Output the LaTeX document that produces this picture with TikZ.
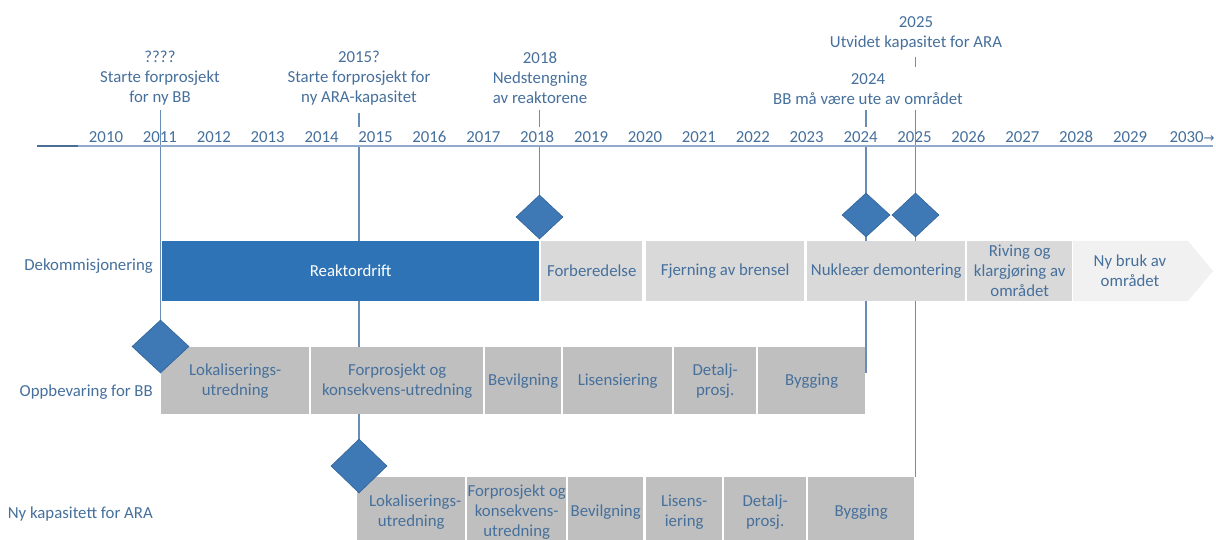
\documentclass[tikz,border=0pt]{standalone}
\usepackage{fontspec}
\setmainfont{Carlito}
\newfontfamily\dejavu{DejaVu Sans}
\usetikzlibrary{shapes.geometric}
\definecolor{txt}{HTML}{46709C}
\definecolor{barblue}{HTML}{2E73B5}
\definecolor{dia}{HTML}{3F79B5}
\definecolor{diaedge}{HTML}{2F6399}
\definecolor{lgray}{HTML}{D9D9D9}
\definecolor{vlgray}{HTML}{F1F1F1}
\definecolor{mgray}{HTML}{BFBFBF}
\definecolor{axisc}{HTML}{8FAACB}
\definecolor{axisdark}{HTML}{4A6E96}
\definecolor{linkc}{HTML}{6A8DB6}
\pgfdeclarelayer{back}
\pgfdeclarelayer{bg}
\pgfsetlayers{back,bg,main}
\begin{document}
\begin{tikzpicture}[x=1pt,y=-1pt,
  every node/.style={font=\fontsize{16.8}{20}\selectfont, text=txt, inner sep=0pt},
  lab/.style={align=center},
  gbox/.style={fill=lgray, anchor=north west, align=center, minimum height=60},
  dbox/.style={fill=mgray, anchor=north west, align=center, minimum height=67},
  ebox/.style={fill=mgray, anchor=north west, align=center, minimum height=70},
  ms/.style={diamond, aspect=1, fill=dia, draw=diaedge, line width=0.6pt},
  link/.style={draw=linkc, line width=1.4pt},
  axisline/.style={draw=axisc, line width=1.3pt}]
\clip (0,0) rectangle (1216,540);
\begin{pgfonlayer}{back}
\fill[white] (0,0) rectangle (1216,540);
\end{pgfonlayer}

% axis
\coordinate (axL) at (37,146);
\coordinate (axM) at (78,146);
\coordinate (axR) at (1213,146);
\draw[axisline] (axL) -- (axR);
\draw[draw=axisdark, line width=1.3pt] (axL) -- (axM);

% years
\foreach \i in {0,...,19}{
  \pgfmathtruncatemacro{\yr}{2010+\i}
  \node (y\yr) at ({106+53.9*\i},137) {\yr};
}
\node (y2030) at (1192,137) {2030{\dejavu\fontsize{13}{13}\selectfont→}};

% top labels
\node[lab] (L2011) at (160,78) {????\\Starte forprosjekt\\for ny BB};
\node[lab] (L2015) at (359,78) {2015?\\Starte forprosjekt for\\ny ARA-kapasitet};
\node[lab] (L2018) at (540,78) {2018\\Nedstengning\\av reaktorene};
\node[lab] (L2025) at (916,33.5) {2025\\Utvidet kapasitet for ARA};
\node[lab] (L2024) at (868,89.5) {2024\\BB må være ute av området};

% row labels
\node[anchor=base east] (R1) at (153,271) {Dekommisjonering};
\node[anchor=base east] (R2) at (153,396) {Oppbevaring for BB};
\node[anchor=base east] (R3) at (153,518) {Ny kapasitett for ARA};

% row 1
\node[gbox, fill=barblue, text=white, minimum width=377] (reak) at (162,241) {Reaktordrift};
\node[gbox, minimum width=101] (forb) at (541,241) {Forberedelse};
\node[gbox, minimum width=158] (fjern) at (646,241) {Fjerning av brensel};
\node[gbox, minimum width=158] (nukl) at (807,241) {Nukleær demontering};
\node[gbox, minimum width=105] (riv) at (967,241) {Riving og\\klargjøring av\\området};
\fill[vlgray] (1073,241) -- (1188,241) -- (1213,271) -- (1188,301) -- (1073,301) -- cycle;
\node[lab] (nybruk) at (1130,271) {Ny bruk av\\området};

% row 2
\node[dbox, minimum width=148] (r2lok) at (161,347) {Lokaliserings-\\utredning};
\node[dbox, minimum width=172] (r2for) at (311,347) {Forprosjekt og\\konsekvens-utredning};
\node[dbox, minimum width=76] (r2bev) at (485,347) {Bevilgning};
\node[dbox, minimum width=109] (r2lis) at (563,347) {Lisensiering};
\node[dbox, minimum width=82] (r2det) at (674,347) {Detalj-\\prosj.};
\node[dbox, minimum width=107] (r2byg) at (758,347) {Bygging};

% row 3
\node[ebox, minimum width=108] (r3lok) at (357,477) {\hspace*{8pt}Lokaliserings-\\utredning};
\node[ebox, minimum width=99] (r3for) at (467,477) {Forprosjekt og\\konsekvens-\\utredning};
\node[ebox, minimum width=75] (r3bev) at (568,477) {Bevilgning};
\node[ebox, minimum width=76] (r3lis) at (646,477) {Lisens-\\iering};
\node[ebox, minimum width=82] (r3det) at (724,477) {Detalj-\\prosj.};
\node[ebox, minimum width=106] (r3byg) at (808,477) {Bygging};

% milestones
\node[ms, minimum width=47, minimum height=44] (d2018) at (539.5,217) {};
\node[ms, minimum width=48, minimum height=44] (d2024) at (866,215) {};
\node[ms, minimum width=47, minimum height=44] (d2025) at (915.5,215) {};
\node[ms, minimum width=57, minimum height=53] (d2011) at (160.5,346.5) {};
\node[ms, minimum width=56, minimum height=54] (d2015) at (359,466) {};

% connector ends
\coordinate (t2011) at (160.5,110);
\coordinate (t2015) at (359,113);
\coordinate (u2015) at (359,127);
\coordinate (v2015) at (359,147);
\coordinate (t2018) at (539.5,110);
\coordinate (u2018) at (539.5,127);
\coordinate (v2018) at (539.5,147);
\coordinate (t2024) at (866,110);
\coordinate (u2024) at (866,127);
\coordinate (v2024) at (866,147);
\coordinate (e2024) at (866,373);
\coordinate (k2025) at (915.5,57);
\coordinate (m2025) at (915.5,67);
\coordinate (t2025) at (915.5,110);
\coordinate (e2025) at (915.5,477);

\begin{pgfonlayer}{bg}
\draw[link] (t2011) -- (d2011.north);
\draw[link] (t2015) -- (u2015);
\draw[link] (v2015) -- (d2015.north);
\draw[link] (t2018) -- (u2018);
\draw[link] (v2018) -- (d2018.north);
\draw[link] (t2024) -- (u2024);
\draw[link] (v2024) -- (e2024);
\draw[link] (k2025) -- (m2025);
\draw[link] (t2025) -- (e2025);
\end{pgfonlayer}
\end{tikzpicture}
\end{document}
